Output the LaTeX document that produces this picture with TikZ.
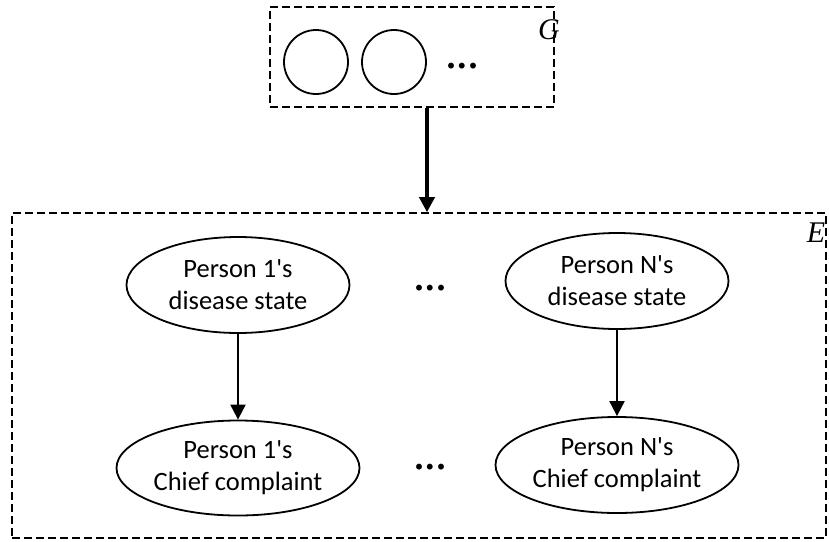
\documentclass[tikz,border=0pt]{standalone}
\usepackage{fontspec}
\setmainfont{Carlito}
\newfontfamily\timesfont{Liberation Serif}
\usetikzlibrary{shapes.geometric,arrows.meta}
\newcommand{\apos}{\textquotesingle}
\begin{document}
\begin{tikzpicture}[x=1pt,y=-1pt,
 dbox/.style={draw,line width=1.6pt,dash pattern=on 8pt off 4pt,inner sep=0,rectangle},
 oval/.style={draw,ellipse,line width=1.8pt,inner sep=0,align=center,font=\fontsize{26.5}{32}\selectfont},
 circ/.style={draw,circle,line width=1.8pt,minimum size=64pt,inner sep=0},
 lbl/.style={font=\timesfont\itshape\fontsize{30}{32}\selectfont,inner sep=0},
 dotsty/.style={font=\timesfont\bfseries\fontsize{36}{38}\selectfont,inner sep=0},
 arr/.style={-{Triangle[length=15pt,width=15pt]},line width=2pt},
 bigarr/.style={-{Triangle[length=15pt,width=15pt]},line width=4pt}]
\useasboundingbox (0,0) rectangle (829,541);
% boxes
\node[dbox,minimum width=284pt,minimum height=100pt] (G) at (412,57) {};
\node[dbox,minimum width=814pt,minimum height=325pt] (E) at (419,375.5) {};
\node[lbl] (Glbl) at (549,30) {G};
\node[lbl] (Elbl) at (816,233) {E};
% circles in G
\node[circ] (c1) at (316,62) {};
\node[circ] (c2) at (394,62) {};
\node[dotsty] (gdots) at (462,66) {.\kern2pt.\kern2pt.};
% ellipses
\node[oval,minimum width=223pt,minimum height=96pt] (d1) at (238,285) {Person 1\apos s\\disease state};
\node[oval,minimum width=243pt,minimum height=95pt] (k1) at (238,468) {Person 1\apos s\\Chief complaint};
\node[oval,minimum width=223pt,minimum height=96pt] (dN) at (617,281) {Person N\apos s\\disease state};
\node[oval,minimum width=243pt,minimum height=96pt] (kN) at (617,465) {Person N\apos s\\Chief complaint};
\node[dotsty] (mdots1) at (430,288) {.\kern2pt.\kern2pt.};
\node[dotsty] (mdots2) at (430,467) {.\kern2pt.\kern2pt.};
% arrows
\coordinate (ax) at (427,0);
\draw[bigarr] (G.south -| ax) -- (E.north -| ax);
\draw[arr] (d1.south) -- (k1.north);
\draw[arr] (dN.south) -- (kN.north);
\end{tikzpicture}
\end{document}
